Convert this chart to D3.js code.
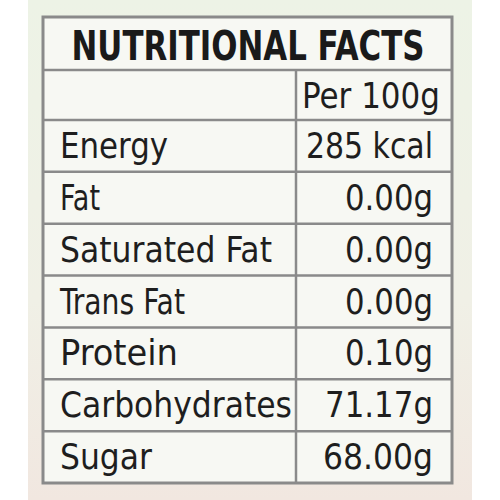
<!DOCTYPE html>
<html><head><meta charset="utf-8">
<script src="https://cdn.jsdelivr.net/npm/d3@7"></script>
<style>body{margin:0;background:#fff}</style>
</head><body>
<script>
"use strict";
var title = "NUTRITIONAL FACTS",
    header = "Per 100g",
    nutrients = ["Energy", "Fat", "Saturated Fat", "Trans Fat", "Protein", "Carbohydrates", "Sugar"],
    amounts = ["285 kcal", "0.00g", "0.00g", "0.00g", "0.10g", "71.17g", "68.00g"],
    labelWidths = [108, 40, 212, 125, 118, 232, 92],
    amountWidths = [127, 88, 88, 88, 88, 108, 110];

var svg = d3.select("body").append("svg").attr("width", 500).attr("height", 500),
    font = "'Liberation Sans Narrow','DejaVu Sans Condensed',sans-serif";

var grad = svg.append("defs").append("linearGradient").attr("id", "bg")
    .attr("x1", 0).attr("y1", 0).attr("x2", 0).attr("y2", 1);
grad.append("stop").attr("offset", "0%").attr("stop-color", "#edf3e6");
grad.append("stop").attr("offset", "60%").attr("stop-color", "#f0f0e6");
grad.append("stop").attr("offset", "100%").attr("stop-color", "#f1e7e0");
svg.append("rect").attr("x", 28).attr("y", 0).attr("width", 444).attr("height", 500).attr("fill", "url(#bg)");

var x0 = 43, x1 = 296, x2 = 452;
var y = d3.scaleBand().domain(d3.range(nutrients.length)).range([120, 483]);

svg.append("rect").attr("x", x0).attr("y", 17).attr("width", x2 - x0).attr("height", 466)
    .attr("fill", "#f7f8f3").attr("stroke", "#8a8a8a").attr("stroke-width", 3);

function hline(yy) {
    svg.append("line").attr("x1", x0).attr("x2", x2).attr("y1", yy).attr("y2", yy)
        .attr("stroke", "#8a8a8a").attr("stroke-width", 2.5);
}
hline(70); hline(120);
y.domain().slice(1).forEach(function (i) { hline(y(i)); });
svg.append("line").attr("x1", x1).attr("x2", x1).attr("y1", 70).attr("y2", 483)
    .attr("stroke", "#8a8a8a").attr("stroke-width", 2.5);

svg.append("text").attr("x", 248).attr("y", 60).attr("text-anchor", "middle")
    .attr("font-family", font).attr("font-weight", "bold").attr("font-size", 40)
    .attr("textLength", 353).attr("lengthAdjust", "spacingAndGlyphs")
    .attr("fill", "#1a1a1a").text(title);

svg.append("text").attr("x", 440).attr("y", 108).attr("text-anchor", "end")
    .attr("font-family", font).attr("font-size", 36)
    .attr("textLength", 138).attr("lengthAdjust", "spacingAndGlyphs")
    .attr("fill", "#1e1e1e").text(header);

var rows = svg.selectAll("g.row").data(nutrients).enter().append("g").attr("class", "row")
    .attr("transform", function (d, i) { return "translate(0," + (y(i) + y.bandwidth() / 2 + 12) + ")"; });

rows.append("text").attr("x", 60).attr("font-family", font).attr("font-size", 36)
    .attr("textLength", function (d, i) { return labelWidths[i]; }).attr("lengthAdjust", "spacingAndGlyphs")
    .attr("fill", "#1e1e1e").text(function (d) { return d; });

rows.append("text").attr("x", 433).attr("text-anchor", "end").attr("font-family", font).attr("font-size", 36)
    .attr("textLength", function (d, i) { return amountWidths[i]; }).attr("lengthAdjust", "spacingAndGlyphs")
    .attr("fill", "#1e1e1e").text(function (d, i) { return amounts[i]; });
</script>
</body></html>
